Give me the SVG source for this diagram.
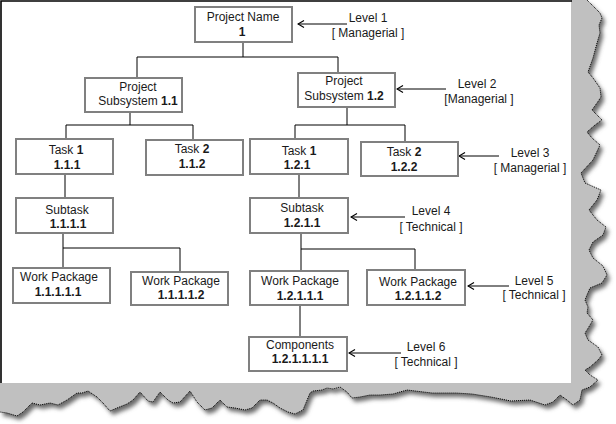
<svg xmlns="http://www.w3.org/2000/svg" width="616" height="424" viewBox="0 0 616 424">
<style>
.box{fill:#fff;stroke:#808080;stroke-width:2}
.t{font-family:"Liberation Sans",Arial,sans-serif;font-size:12px;fill:#1a1a1a;text-anchor:middle}
.b{font-weight:bold}
.c{fill:none;stroke:#000;stroke-width:1}
.edge{fill:none;stroke:#000;stroke-width:1;stroke-dasharray:1 1}
</style>
<defs>
<filter id="blur" x="-10%" y="-10%" width="120%" height="120%"><feGaussianBlur stdDeviation="2.2"/></filter>
<marker id="ah" markerWidth="10" markerHeight="10" refX="1" refY="5" orient="auto" markerUnits="userSpaceOnUse">
<path d="M7,1.5 L1,5 L7,8.5" fill="none" stroke="#000" stroke-width="1.2"/>
</marker>
</defs>
<rect width="616" height="424" fill="#fff"/>
<g id="paper">
<path id="tornShadow" transform="translate(3,4)" filter="url(#blur)" fill="#6a6a6a" d="M571,0 L587,0 L600,13 L602,18 L599,25 L600,33 L597,43 L593,58 L588,72 L593,78 L600,88 L601,97 L597,103 L592,110 L597,115 L602,120 L595,125 L587,132 L592,138 L600,145 L593,160 L581,173 L585,183 L601,190 L597,200 L589,210 L597,220 L606,227 L603,235 L593,242 L589,250 L593,258 L603,266 L607,275 L602,283 L590,288 L587,295 L585,300 L588,307 L587,313 L593,320 L587,330 L585,333 L588,340 L598,347 L602,355 L598,360 L590,367 L585,370 L590,375 L598,380 L590,387 L582,390 L580,400 L573,405 L567,400 L560,395 L553,402 L545,405 L530,400 L511,401 L491,397 L472,394 L456,393 L432,393 L407,390 L393,394 L380,395 L370,395 L360,397 L352,398 L347,392 L340,387 L333,389 L327,388 L322,390 L313,391 L310,393 L303,410 L295,414 L288,412 L280,408 L273,403 L267,400 L260,400 L252,408 L245,410 L235,408 L227,407 L220,400 L212,408 L205,410 L197,402 L190,391 L180,402 L173,403 L168,400 L160,392 L153,402 L148,401 L140,392 L133,400 L127,404 L117,408 L110,411 L103,403 L97,397 L88,391 L82,393 L77,393 L67,400 L58,405 L50,403 L40,405 L32,403 L23,412 L17,416 L7,413 L0,412 L0,383 L571,383 Z"/>
<path id="grey" fill="#c0c0c0" d="M571,0 L587,0 L600,13 L602,18 L599,25 L600,33 L597,43 L593,58 L588,72 L593,78 L600,88 L601,97 L597,103 L592,110 L597,115 L602,120 L595,125 L587,132 L592,138 L600,145 L593,160 L581,173 L585,183 L601,190 L597,200 L589,210 L597,220 L606,227 L603,235 L593,242 L589,250 L593,258 L603,266 L607,275 L602,283 L590,288 L587,295 L585,300 L588,307 L587,313 L593,320 L587,330 L585,333 L588,340 L598,347 L602,355 L598,360 L590,367 L585,370 L590,375 L598,380 L590,387 L582,390 L580,400 L573,405 L567,400 L560,395 L553,402 L545,405 L530,400 L511,401 L491,397 L472,394 L456,393 L432,393 L407,390 L393,394 L380,395 L370,395 L360,397 L352,398 L347,392 L340,387 L333,389 L327,388 L322,390 L313,391 L310,393 L303,410 L295,414 L288,412 L280,408 L273,403 L267,400 L260,400 L252,408 L245,410 L235,408 L227,407 L220,400 L212,408 L205,410 L197,402 L190,391 L180,402 L173,403 L168,400 L160,392 L153,402 L148,401 L140,392 L133,400 L127,404 L117,408 L110,411 L103,403 L97,397 L88,391 L82,393 L77,393 L67,400 L58,405 L50,403 L40,405 L32,403 L23,412 L17,416 L7,413 L0,412 L0,383 L571,383 Z"/>
<path class="edge" d="M587,0 L600,13 L602,18 L599,25 L600,33 L597,43 L593,58 L588,72 L593,78 L600,88 L601,97 L597,103 L592,110 L597,115 L602,120 L595,125 L587,132 L592,138 L600,145 L593,160 L581,173 L585,183 L601,190 L597,200 L589,210 L597,220 L606,227 L603,235 L593,242 L589,250 L593,258 L603,266 L607,275 L602,283 L590,288 L587,295 L585,300 L588,307 L587,313 L593,320 L587,330 L585,333 L588,340 L598,347 L602,355 L598,360 L590,367 L585,370 L590,375 L598,380 L590,387 L582,390 L580,400 L573,405 L567,400 L560,395 L553,402 L545,405 L530,400 L511,401 L491,397 L472,394 L456,393 L432,393 L407,390 L393,394 L380,395 L370,395 L360,397 L352,398 L347,392 L340,387 L333,389 L327,388 L322,390 L313,391 L310,393 L303,410 L295,414 L288,412 L280,408 L273,403 L267,400 L260,400 L252,408 L245,410 L235,408 L227,407 L220,400 L212,408 L205,410 L197,402 L190,391 L180,402 L173,403 L168,400 L160,392 L153,402 L148,401 L140,392 L133,400 L127,404 L117,408 L110,411 L103,403 L97,397 L88,391 L82,393 L77,393 L67,400 L58,405 L50,403 L40,405 L32,403 L23,412 L17,416 L7,413 L0,412"/>
<rect x="0" y="0" width="571" height="383" fill="#fff"/>
<path d="M1,383 L1,1 L572,1" fill="none" stroke="#000" stroke-width="1.6"/>
</g>
<g id="connectors">
<path class="c" d="M243,42 V57 M137,57 H338 M137,57 V78 M338,57 V73"/>
<path class="c" d="M130,112 V125 M66,125 H193 M66,125 V139 M193,125 V140"/>
<path class="c" d="M347,107 V125 M295,125 H405 M295,125 V139 M405,125 V142"/>
<path class="c" d="M65,174 V198 M299,174 V198"/>
<path class="c" d="M63,233 V248 M63,248 H180 M63,248 V268 M180,248 V272"/>
<path class="c" d="M301,233 V249 M301,249 H415 M301,249 V271 M415,249 V270"/>
<path class="c" d="M300,305 V337"/>
<path class="c" marker-start="url(#ah)" d="M298,24 H347"/>
<path class="c" marker-start="url(#ah)" d="M397,89 H446"/>
<path class="c" marker-start="url(#ah)" d="M459,156 H499"/>
<path class="c" marker-start="url(#ah)" d="M351,217 H405"/>
<path class="c" marker-start="url(#ah)" d="M468,286 H509"/>
<path class="c" marker-start="url(#ah)" d="M349,353 H401"/>
</g>
<g id="n1"><rect class="box" x="195" y="7" width="97" height="35"/><text class="t" x="243" y="21">Project Name</text><text class="t b" x="242" y="36">1</text></g>
<g id="n1_1"><rect class="box" x="85" y="78" width="97" height="34"/><text class="t" x="138" y="91">Project</text><text class="t" x="138" y="105">Subsystem <tspan class="b">1.1</tspan></text></g>
<g id="n1_2"><rect class="box" x="298" y="73" width="97" height="34"/><text class="t" x="344" y="85">Project</text><text class="t" x="344" y="100">Subsystem <tspan class="b">1.2</tspan></text></g>
<g id="n1_1_1"><rect class="box" x="16" y="139" width="97" height="35"/><text class="t" x="66" y="154">Task <tspan class="b">1</tspan></text><text class="t b" x="67" y="168.5">1.1.1</text></g>
<g id="n1_1_2"><rect class="box" x="146" y="140" width="97" height="35"/><text class="t" x="192" y="153">Task <tspan class="b">2</tspan></text><text class="t b" x="192" y="168">1.1.2</text></g>
<g id="n1_2_1"><rect class="box" x="250" y="139" width="98" height="35"/><text class="t" x="299" y="155">Task <tspan class="b">1</tspan></text><text class="t b" x="297" y="169">1.2.1</text></g>
<g id="n1_2_2"><rect class="box" x="361" y="142" width="97" height="34"/><text class="t" x="404" y="156">Task <tspan class="b">2</tspan></text><text class="t b" x="404" y="171">1.2.2</text></g>
<g id="n1_1_1_1"><rect class="box" x="16" y="198" width="97" height="35"/><text class="t" x="67" y="214">Subtask</text><text class="t b" x="68" y="228">1.1.1.1</text></g>
<g id="n1_2_1_1"><rect class="box" x="250" y="198" width="98" height="35"/><text class="t" x="302" y="212">Subtask</text><text class="t b" x="302" y="227">1.2.1.1</text></g>
<g id="n1_1_1_1_1"><rect class="box" x="13" y="268" width="97" height="35"/><text class="t" x="59" y="281">Work Package</text><text class="t b" x="58" y="296">1.1.1.1.1</text></g>
<g id="n1_1_1_1_2"><rect class="box" x="131" y="272" width="97" height="33"/><text class="t" x="181" y="285">Work Package</text><text class="t b" x="181" y="299">1.1.1.1.2</text></g>
<g id="n1_2_1_1_1"><rect class="box" x="250" y="271" width="98" height="34"/><text class="t" x="300" y="285">Work Package</text><text class="t b" x="300" y="300">1.2.1.1.1</text></g>
<g id="n1_2_1_1_2"><rect class="box" x="367" y="270" width="98" height="35"/><text class="t" x="418" y="286">Work Package</text><text class="t b" x="418" y="300">1.2.1.1.2</text></g>
<g id="n1_2_1_1_1_1"><rect class="box" x="249" y="337" width="98" height="34"/><text class="t" x="300" y="349">Components</text><text class="t b" x="300" y="363">1.2.1.1.1.1</text></g>
<g id="labels">
<text class="t" x="368" y="22">Level 1</text><text class="t" x="368" y="37">[ Managerial ]</text>
<text class="t" x="477" y="88">Level 2</text><text class="t" x="479" y="103">[Managerial ]</text>
<text class="t" x="530" y="157">Level 3</text><text class="t" x="530" y="172">[ Managerial ]</text>
<text class="t" x="431" y="215">Level 4</text><text class="t" x="431" y="231">[ Technical ]</text>
<text class="t" x="534" y="285">Level 5</text><text class="t" x="534" y="299">[ Technical ]</text>
<text class="t" x="426" y="351">Level 6</text><text class="t" x="426" y="366">[ Technical ]</text>
</g>
</svg>
